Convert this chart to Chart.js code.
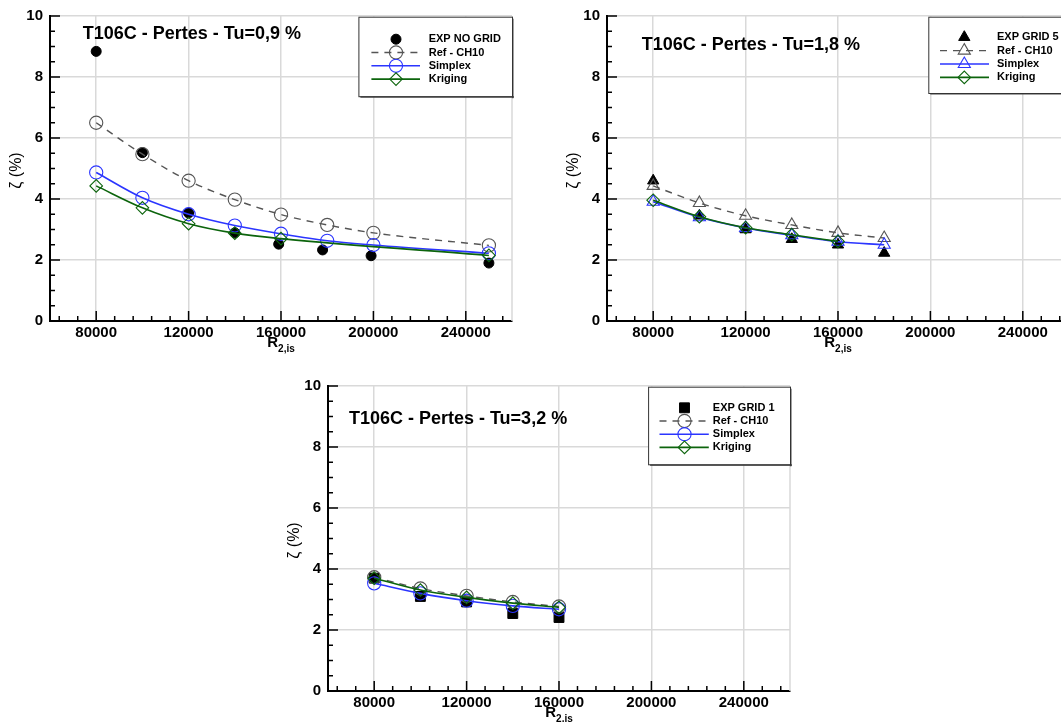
<!DOCTYPE html>
<html>
<head>
<meta charset="utf-8">
<script src="https://cdn.jsdelivr.net/npm/chart.js@4.4.0/dist/chart.umd.min.js"></script>
<style>
    html, body { margin: 0; padding: 0; background: #fff; overflow: hidden; }
    body { width: 1061px; height: 722px; position: relative; }
    canvas { position: absolute; }
</style>
</head>
<body>
<canvas id="c1" width="530" height="360" style="left:0;top:0"></canvas>
<canvas id="c2" width="530" height="360" style="left:557px;top:0"></canvas>
<canvas id="c3" width="530" height="352" style="left:278px;top:370px"></canvas>
<script>
// --- Tu = 0,9 %
const x1 = [80000, 100000, 120000, 140000, 160000, 180000, 200000, 250000];
const expX1 = [80000, 100000, 120000, 140000, 159000, 178000, 199000, 250000];
const exp1 = [8.84, 5.52, 3.54, 2.89, 2.52, 2.33, 2.14, 1.90];
const ref1 = [6.50, 5.47, 4.60, 3.98, 3.49, 3.15, 2.89, 2.48];
const simplex1 = [4.87, 4.04, 3.50, 3.13, 2.86, 2.63, 2.49, 2.22];
const krigX1 = [80000, 100000, 120000, 140000, 160000, 250000];
const kriging1 = [4.43, 3.71, 3.19, 2.88, 2.70, 2.15];

// --- Tu = 1,8 %
const x2 = [80000, 100000, 120000, 140000, 160000, 180000];
const exp2 = [4.60, 3.45, 3.00, 2.68, 2.50, 2.23];
const ref2 = [4.43, 3.87, 3.45, 3.15, 2.89, 2.72];
const simplex2 = [3.91, 3.40, 3.05, 2.81, 2.60, 2.50];
const krigX2 = [80000, 100000, 120000, 140000, 160000];
const kriging2 = [3.96, 3.42, 3.06, 2.83, 2.61];

// --- Tu = 3,2 %
const x3 = [80000, 100000, 120000, 140000, 160000];
const exp3 = [3.70, 3.10, 2.92, 2.54, 2.41];
const ref3 = [3.73, 3.36, 3.12, 2.92, 2.77];
const simplex3 = [3.53, 3.20, 2.96, 2.79, 2.68];
const kriging3 = [3.70, 3.31, 3.07, 2.88, 2.74];

const xTicks = [80000, 120000, 160000, 200000, 240000];
const yTicks = [0, 2, 4, 6, 8, 10];

const FONT = '"Liberation Sans", Arial, Helvetica, sans-serif';
const BLUE = '#2b35ff';
const GREEN = '#0c640c';
const GREY = '#555555';
const NONE = 'rgba(0,0,0,0)';

const pts = (xs, ys) => xs.map((v, i) => ({ x: v, y: ys[i] }));

const decoPlugin = {
    id: 'deco',
    afterDraw(chart, args, o) {
        const { ctx, chartArea: a, scales: { x, y } } = chart;
        ctx.save();

        // right frame
        ctx.strokeStyle = '#d9d9d9';
        ctx.lineWidth = 1.5;
        ctx.beginPath(); ctx.moveTo(a.right, a.top); ctx.lineTo(a.right, a.bottom); ctx.stroke();

        // inward ticks, 4 minor per major on x, 3 on y
        ctx.strokeStyle = '#000';
        ctx.lineWidth = 1.5;
        for (let v = 64000; v < 260000; v += 8000) {
            const px = x.getPixelForValue(v);
            const len = v % 40000 === 0 ? 10 : 5;
            ctx.beginPath(); ctx.moveTo(px, a.bottom); ctx.lineTo(px, a.bottom - len); ctx.stroke();
        }
        for (let v = 0.5; v <= 10; v += 0.5) {
            const py = y.getPixelForValue(v);
            const len = v % 2 === 0 ? 10 : 5;
            ctx.beginPath(); ctx.moveTo(a.left, py); ctx.lineTo(a.left + len, py); ctx.stroke();
        }

        // title
        ctx.fillStyle = '#000';
        ctx.textBaseline = 'middle';
        ctx.textAlign = 'left';
        ctx.font = `bold 18px ${FONT}`;
        ctx.fillText(o.title, a.left + o.titleX, a.top + o.titleY);

        // x axis title R_2,is
        ctx.font = `bold 15px ${FONT}`;
        const wR = ctx.measureText('R').width;
        ctx.font = `bold 10px ${FONT}`;
        const wS = ctx.measureText('2,is').width;
        const sx = (a.left + a.right) / 2 - (wR + wS) / 2;
        ctx.font = `bold 15px ${FONT}`;
        ctx.fillText('R', sx, a.bottom + 22.3);
        ctx.font = `bold 10px ${FONT}`;
        ctx.fillText('2,is', sx + wR, a.bottom + 27.8);

        // y axis title
        ctx.save();
        ctx.translate(a.left - 33, (a.top + a.bottom) / 2 + 2);
        ctx.rotate(-Math.PI / 2);
        ctx.textAlign = 'center';
        ctx.font = `16px ${FONT}`;
        ctx.fillText('ζ (%)', 0, 0);
        ctx.restore();

        // legend box
        const L = o.legend;
        const bx = a.left + L.boxX, by = a.top + L.boxY;
        ctx.fillStyle = '#444';
        ctx.fillRect(bx + 2, by + L.h, L.w, 1.5);
        ctx.fillRect(bx + L.w, by + 2, 1.5, L.h);
        ctx.fillStyle = '#fff';
        ctx.fillRect(bx, by, L.w, L.h);
        ctx.strokeStyle = '#333';
        ctx.lineWidth = 1;
        ctx.strokeRect(bx + 0.5, by + 0.5, L.w, L.h);

        chart.data.datasets.forEach((ds, i) => {
            const ry = by + L.row0 + i * L.step;
            if (ds.showLine) {
                ctx.save();
                ctx.strokeStyle = ds.borderColor;
                ctx.lineWidth = ds.borderWidth;
                ctx.setLineDash(ds.borderDash || []);
                ctx.beginPath(); ctx.moveTo(bx + L.l0, ry); ctx.lineTo(bx + L.l1, ry); ctx.stroke();
                ctx.restore();
            }
            ctx.save();
            ctx.fillStyle = ds.pointBackgroundColor;
            ctx.strokeStyle = ds.pointBorderColor;
            ctx.lineWidth = ds.pointBorderWidth;
            ctx.setLineDash([]);
            Chart.helpers.drawPoint(ctx, { pointStyle: ds.pointStyle, radius: ds.pointRadius, borderWidth: ds.pointBorderWidth, rotation: 0 }, bx + L.mx, ry);
            ctx.restore();
            ctx.fillStyle = '#000';
            ctx.font = `bold 11px ${FONT}`;
            ctx.textAlign = 'left';
            ctx.fillText(ds.label, bx + L.tx, ry);
        });
        ctx.restore();
    }
};

function datasets(p) {
    const model = { showLine: true, cubicInterpolationMode: 'monotone', pointBackgroundColor: NONE, pointBorderWidth: 1.1, backgroundColor: NONE };
    return [
        { label: p.expLabel, data: p.exp, showLine: false, pointStyle: p.expStyle, pointRadius: p.expRadius,
          pointBackgroundColor: '#000', pointBorderColor: '#000', pointBorderWidth: 1, order: 4 },
        { ...model, label: 'Ref - CH10', data: p.ref, borderColor: GREY, pointBorderColor: GREY, borderWidth: 1.4,
          borderDash: [7, 6], pointStyle: p.style, pointRadius: p.radius, order: 3 },
        { ...model, label: 'Simplex', data: p.simplex, borderColor: BLUE, pointBorderColor: BLUE, borderWidth: 1.6,
          pointStyle: p.style, pointRadius: p.radius, order: 2 },
        { ...model, label: 'Kriging', data: p.kriging, borderColor: GREEN, pointBorderColor: GREEN, borderWidth: 1.6,
          pointStyle: 'rectRot', pointRadius: 6.3, order: 1 }
    ];
}

function makeChart(id, p, deco, xHeight) {
    const canvas = document.getElementById(id);
    return new Chart(canvas.getContext('2d'), {
        type: 'scatter',
        data: { datasets: datasets(p) },
        options: {
            responsive: false,
            animation: false,
            devicePixelRatio: 1,
            layout: { padding: { left: 0, right: 18, top: 12, bottom: 0 } },
            plugins: { legend: { display: false }, tooltip: { enabled: false }, deco },
            scales: {
                x: {
                    type: 'linear', min: 60000, max: 260000,
                    afterBuildTicks: (s) => { s.ticks = xTicks.map(v => ({ value: v })); },
                    afterFit: (s) => { s.height = xHeight; },
                    grid: { color: '#d9d9d9', lineWidth: 1.5, drawTicks: false },
                    border: { display: true, color: '#000', width: 2 },
                    ticks: { callback: v => String(v), color: '#000', padding: 3, maxRotation: 0,
                             font: { family: FONT, size: 15, weight: 'bold' } }
                },
                y: {
                    min: 0, max: 10,
                    afterBuildTicks: (s) => { s.ticks = yTicks.map(v => ({ value: v })); },
                    afterFit: (s) => { s.width = 50; },
                    grid: { color: '#d9d9d9', lineWidth: 1.5, drawTicks: false },
                    border: { display: true, color: '#000', width: 2 },
                    ticks: { color: '#000', padding: 7, font: { family: FONT, size: 15, weight: 'bold' } }
                }
            }
        },
        plugins: [decoPlugin]
    });
}

makeChart('c1', {
    expLabel: 'EXP NO GRID', expStyle: 'circle', expRadius: 5, style: 'circle', radius: 6.6,
    exp: pts(expX1, exp1), ref: pts(x1, ref1), simplex: pts(x1, simplex1), kriging: pts(krigX1, kriging1)
}, {
    title: 'T106C - Pertes - Tu=0,9 %', titleX: 32.8, titleY: 17.7,
    legend: { boxX: 308.4, boxY: 0.7, w: 153.6, h: 79.5, row0: 22.5, step: 13.3, mx: 37.6, l0: 13, l1: 61.6, tx: 70.3 }
}, 39);

makeChart('c2', {
    expLabel: 'EXP GRID 5', expStyle: 'triangle', expRadius: 6.5, style: 'triangle', radius: 7,
    exp: pts(x2, exp2), ref: pts(x2, ref2), simplex: pts(x2, simplex2), kriging: pts(krigX2, kriging2)
}, {
    title: 'T106C - Pertes - Tu=1,8 %', titleX: 34.7, titleY: 28.6,
    legend: { boxX: 321.3, boxY: 0.7, w: 200, h: 76.3, row0: 20.5, step: 13.4, mx: 36, l0: 11.7, l1: 60.7, tx: 68.7 }
}, 39);

makeChart('c3', {
    expLabel: 'EXP GRID 1', expStyle: 'rect', expRadius: 7, style: 'circle', radius: 6.6,
    exp: pts(x3, exp3), ref: pts(x3, ref3), simplex: pts(x3, simplex3), kriging: pts(x3, kriging3)
}, {
    title: 'T106C - Pertes - Tu=3,2 %', titleX: 20.9, titleY: 32.6,
    legend: { boxX: 320.1, boxY: 0.7, w: 141.9, h: 77.6, row0: 21.1, step: 13.2, mx: 36.4, l0: 11.4, l1: 60.7, tx: 64.7 }
}, 31);
</script>
</body>
</html>
